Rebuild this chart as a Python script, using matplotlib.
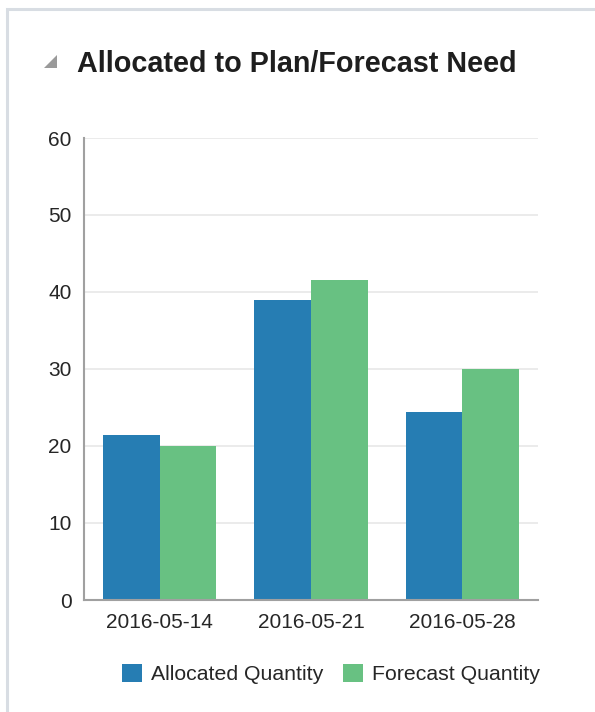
import matplotlib.pyplot as plt
import numpy as np
from matplotlib.patches import Rectangle, Polygon

plt.rcParams['font.family'] = ['Liberation Sans', 'DejaVu Sans']

# data
weeks = ["2016-05-14", "2016-05-21", "2016-05-28"]
allocated = [21.4, 38.9, 24.4]
forecast = [20.0, 41.6, 30.0]
series_names = ["Allocated Quantity", "Forecast Quantity"]
y_ticks = [0, 10, 20, 30, 40, 50, 60]

c_alloc = "#267db3"
c_fcst = "#68c182"
txt = "#262626"

W, H = 595, 712
fig = plt.figure(figsize=(W/100, H/100), dpi=100)

# card border
fig.patches.append(Rectangle((7/W, -0.1), 1.2, 1 - 9/H + 0.1, transform=fig.transFigure,
                             facecolor="none", edgecolor="#d8dde3", linewidth=2.2, zorder=-1))
# collapse triangle
fig.patches.append(Polygon([(44/W, 1-68/H), (57/W, 1-68/H), (57/W, 1-55/H)], closed=True,
                           transform=fig.transFigure, facecolor="#9a9a9a", edgecolor="none"))
fig.text(77/W, 1-72/H, "Allocated to Plan/Forecast Need", fontsize=20.7, fontweight="bold",
         color="#1e1e1e", ha="left", va="baseline")

ax = fig.add_axes([84/W, 1-600/H, (538-84)/W, (600-138)/H])
x = np.arange(len(weeks))
bw = 0.375
ax.bar(x - bw/2, allocated, bw, color=c_alloc, label=series_names[0], zorder=3)
ax.bar(x + bw/2, forecast, bw, color=c_fcst, label=series_names[1], zorder=3)

ax.set_xlim(-0.5, len(weeks) - 0.5)
ax.set_ylim(0, 60)
ax.set_yticks(y_ticks)
ax.set_xticks(x)
ax.set_xticklabels(weeks)
ax.grid(axis="y", color="#e8e8e8", linewidth=1.2, zorder=0)
ax.tick_params(axis="both", length=0, labelsize=15, colors=txt)
ax.tick_params(axis="y", pad=9)
ax.tick_params(axis="x", pad=9)
for s in ["top", "right"]:
    ax.spines[s].set_visible(False)
for s in ["left", "bottom"]:
    ax.spines[s].set_color("#a0a0a0")
    ax.spines[s].set_linewidth(1.5)
    ax.spines[s].set_zorder(4)

leg = fig.legend(loc="center", bbox_to_anchor=(331/W, 1-674/H), ncol=2, frameon=False,
                 fontsize=15.3, handlelength=0.95, handleheight=0.95, handletextpad=0.45,
                 columnspacing=0.9, labelcolor=txt)

fig.savefig("out.png", dpi=100)
